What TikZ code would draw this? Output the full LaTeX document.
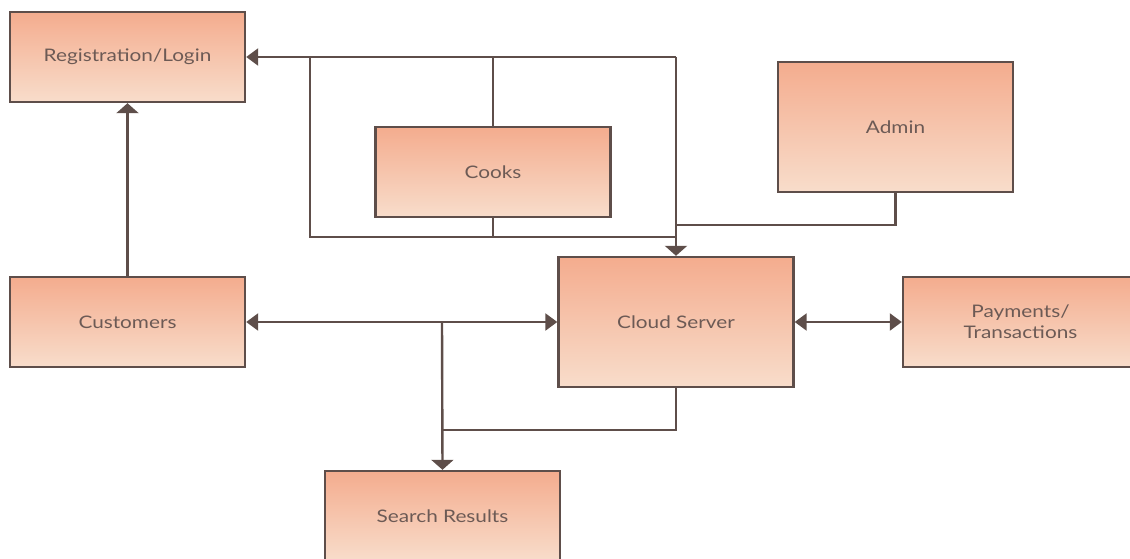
\documentclass[tikz,border=0pt]{standalone}
\usepackage{fontspec}
\setmainfont{Lato}[FakeStretch=1.2]
\usetikzlibrary{arrows.meta}
\definecolor{boxtop}{RGB}{244,172,142}
\definecolor{boxbot}{RGB}{248,221,203}
\definecolor{edge}{RGB}{94,78,74}
\definecolor{txt}{RGB}{108,90,85}
\tikzset{
  box/.style={draw=edge, line width=2.4pt, top color=boxtop, bottom color=boxbot,
    minimum width=235pt, minimum height=90pt, inner sep=0pt, align=center,
    text=txt, font=\fontsize{17.3}{21}\selectfont},
  tall/.style={minimum height=130pt},
  conn/.style={draw=edge, line width=2.4pt},
  harr/.tip={Triangle[width=17pt,length=12pt]},
  varr/.tip={Triangle[width=22pt,length=10pt]}
}
\begin{document}
\begin{tikzpicture}[x=1pt,y=-1pt]
\useasboundingbox (0,0) rectangle (1130,559);
\clip (0,0) rectangle (1130,559);
\node[box] (reg) at (127.5,57) {Registration/Login};
\node[box] (cooks) at (493,172) {Cooks};
\node[box, tall] (admin) at (895.5,127) {Admin};
\node[box] (cust) at (127.5,322) {Customers};
\node[box, tall] (cloud) at (676,322) {Cloud Server};
\node[box] (pay) at (1020.5,322) {Payments/\\Transactions};
\node[box] (search) at (442.5,516) {Search Results};

\coordinate (tr) at (676,57);
\coordinate (lt) at (310,57);
\coordinate (lb) at (310,237);
\coordinate (aj) at (676,225);
\coordinate (sj) at (442,322);
\coordinate (sj2) at (442,430);

\draw[conn, -{varr}] (cust.north) -- (reg.south);
\draw[conn, -{harr}] (tr) -- (reg.east);
\draw[conn, -{varr}] (tr) -- (cloud.north);
\draw[conn] (lt) -- (lb) -- (lb -| cloud.north);
\draw[conn] (cooks.north) -- (cooks.north |- tr);
\draw[conn] (cooks.south) -- (cooks.south |- lb);
\draw[conn] (admin.south) |- (aj);
\draw[conn, {harr}-{harr}] (cust.east) -- (cloud.west);
\draw[conn, -{varr}] (sj) -- (search.north);
\draw[conn] (cloud.south) |- (sj2);
\draw[conn, {harr}-{harr}] (cloud.east) -- (pay.west);
\end{tikzpicture}
\end{document}
